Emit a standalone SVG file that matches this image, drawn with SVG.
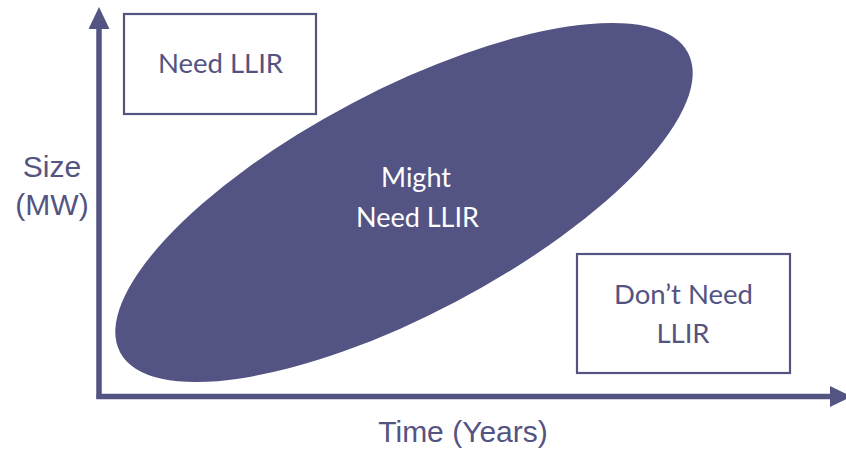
<svg xmlns="http://www.w3.org/2000/svg" width="846" height="449" viewBox="0 0 846 449">
  <defs>
    <style>
      .box { fill: #ffffff; stroke: #545482; stroke-width: 2.2; }
      .boxtext { font-family: Lato, "Open Sans", sans-serif; font-size: 27.5px; fill: #545482; text-anchor: middle; }
      .intext { font-family: Lato, "Open Sans", sans-serif; font-size: 27px; fill: #ffffff; text-anchor: middle; }
      .axislabel { font-family: "Liberation Sans", Arial, sans-serif; font-size: 30px; fill: #545482; text-anchor: middle; }
      .axis { stroke: #545482; stroke-width: 5.5; fill: none; }
    </style>
    <marker id="arrow" viewBox="0 -10.5 22 21" refX="0" refY="0" markerWidth="22" markerHeight="21" markerUnits="userSpaceOnUse" orient="auto">
      <path d="M0,-10.5 L22,0 L0,10.5 Z" fill="#545482"/>
    </marker>
  </defs>
  <rect width="846" height="449" fill="#ffffff"/>

  <g id="region-might">
    <ellipse cx="404" cy="202.5" rx="321" ry="112" transform="rotate(-27.8 404 202.5)" fill="#535384"/>
    <text class="intext" x="416" y="187">Might</text>
    <text class="intext" x="417.5" y="227">Need LLIR</text>
  </g>

  <g id="box-need">
    <rect class="box" x="124" y="14" width="192" height="100"/>
    <text class="boxtext" x="220.5" y="73">Need LLIR</text>
  </g>

  <g id="box-dont-need">
    <rect class="box" x="577" y="254" width="213" height="119"/>
    <text class="boxtext" x="683.5" y="304">Don’t Need</text>
    <text class="boxtext" x="683" y="343">LLIR</text>
  </g>

  <g id="connectors">
    <line class="axis" x1="99" y1="399" x2="99" y2="29" marker-end="url(#arrow)"/>
    <line class="axis" x1="96.5" y1="396.5" x2="830" y2="396.5" marker-end="url(#arrow)"/>
  </g>

  <g id="axis-labels">
    <text class="axislabel" x="52" y="177">Size</text>
    <text class="axislabel" x="52" y="215">(MW)</text>
    <text class="axislabel" x="463" y="442">Time (Years)</text>
  </g>
</svg>
